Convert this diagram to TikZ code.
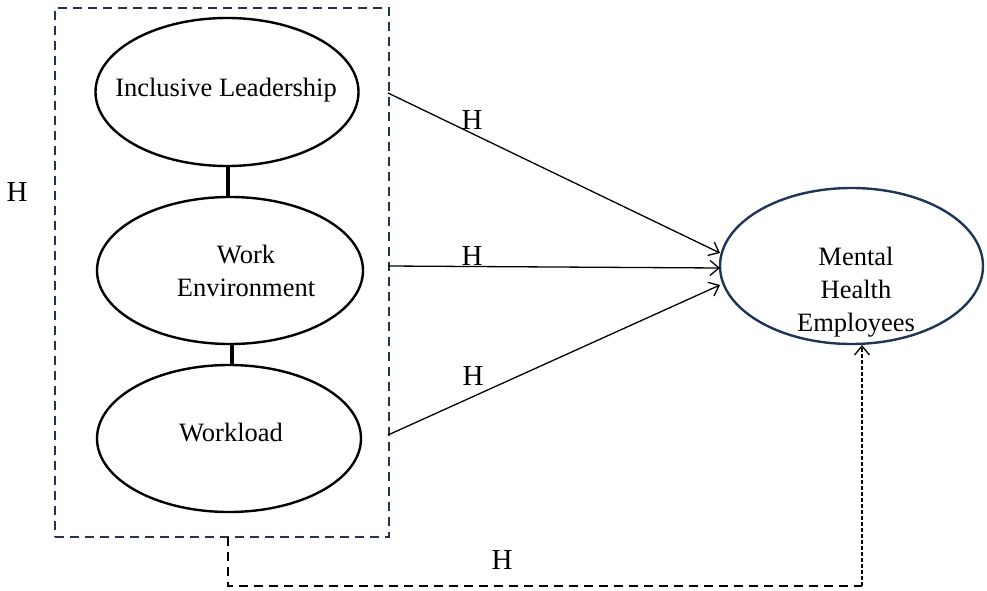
\documentclass[tikz,border=0pt]{standalone}
\usepackage{fontspec}
\setmainfont{Liberation Serif}
\usetikzlibrary{arrows.meta,shapes.geometric}
\definecolor{navy}{HTML}{1F3556}
\tikzset{
  ell/.style={draw, ellipse, line width=2.4pt, inner sep=0pt},
  txt/.style={font=\fontsize{26.5}{33}\selectfont, align=center, inner sep=0pt},
  hlab/.style={font=\fontsize{29}{30}\selectfont, inner sep=0pt},
  arr/.style={line width=1.3pt, -{Straight Barb[length=9pt,width=15pt,line width=1.3pt]}},
  boxdash/.style={draw=navy, line width=2.4pt, dash pattern=on 9pt off 6pt},
  bdash/.style={line width=2.4pt, dash pattern=on 9pt off 6pt},
  fdash/.style={line width=1.4pt, dash pattern=on 4pt off 2pt, -{Straight Barb[length=9pt,width=15pt,line width=1.3pt]}},
  link/.style={line width=3.4pt}
}
\begin{document}
\begin{tikzpicture}[x=1pt,y=-1pt]
\useasboundingbox (0,0) rectangle (987,591);
% dashed group box
\node[boxdash, minimum width=334pt, minimum height=529pt, inner sep=0pt, outer sep=0pt] (box) at (222,272.5) {};
% ellipses
\node[ell, minimum width=263pt, minimum height=148pt] (il) at (227,92) {};
\node[ell, minimum width=266pt, minimum height=147pt] (we) at (230,270.5) {};
\node[ell, minimum width=264pt, minimum height=147pt] (wl) at (229,438.5) {};
\node[ell, draw=navy, minimum width=263pt, minimum height=156pt] (mh) at (851.5,266) {};
% texts
\node[txt] (til) at (226,90) {Inclusive Leadership};
\node[txt] (twe) at (246,270.5) {Work\\Environment};
\node[txt] (twl) at (231,433) {Workload};
\node[txt] (tmh) at (856,292) {Mental\\Health\\Employees};
% links between ellipses
\draw[link] (il.south -| 228,0) -- (we.north -| 228,0);
\draw[link] (we.south -| 232,0) -- (wl.north -| 232,0);
% arrows
\coordinate (s1) at (388,93);
\coordinate (s2) at (388,266);
\coordinate (s3) at (388,435);
\coordinate (e1) at (720,253);
\coordinate (e2) at (720,268);
\coordinate (e3) at (720,285);
\draw[arr] (s1) -- (e1);
\draw[arr] (s2) -- (e2);
\draw[arr] (s3) -- (e3);
% H labels
\node[hlab] (h1) at (472,120) {H};
\node[hlab] (h2) at (472,256) {H};
\node[hlab] (h3) at (473,376) {H};
\node[hlab] (h0) at (17,192) {H};
\node[hlab] (h4) at (502,560) {H};
% bottom dashed connector
\coordinate (c1) at (228,586);
\coordinate (c2) at (862,586);
\draw[bdash] (box.south -| c1) -- (c1) -- (c2);
\draw[fdash] (c2) -- (862,345);
\end{tikzpicture}
\end{document}
